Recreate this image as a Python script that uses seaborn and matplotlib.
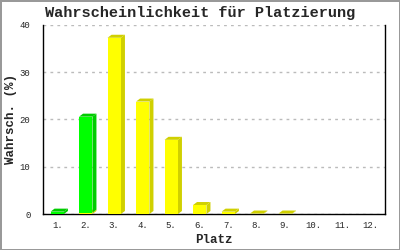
import matplotlib
matplotlib.use("Agg")
import matplotlib.pyplot as plt
import seaborn as sns
import pandas as pd
import numpy as np
from matplotlib.patches import Polygon
from matplotlib.transforms import IdentityTransform

# ---- data ----
places = ["1.", "2.", "3.", "4.", "5.", "6.", "7.", "8.", "9.", "10.", "11.", "12."]
yellow_vals = [0.0, 0.3, 37.3, 23.8, 15.7, 1.9, 0.5, 0.1, 0.1, 0.0, 0.0, 0.0]
green_vals = [0.5, 20.3, 0.0, 0.0, 0.0, 0.0, 0.0, 0.0, 0.0, 0.0, 0.0, 0.0]
yticks = [0, 10, 20, 30, 40]

title = "Wahrscheinlichkeit für Platzierung"
xlabel = "Platz"
ylabel = "Wahrsch. (%)"

YELLOW, YELLOW_SIDE = "#ffff00", "#d0d000"
GREEN, GREEN_SIDE = "#00ff00", "#00cc00"

sns.set_style("white")
plt.rcParams["font.family"] = ["Liberation Mono", "DejaVu Sans Mono"]

fig = plt.figure(figsize=(4, 2.5), dpi=100)
fig.patch.set_facecolor("white")
fig.patch.set_edgecolor("#999999")
fig.patch.set_linewidth(2)
ax = fig.add_axes([0.1075, 0.144, 0.855, 0.756])

df = pd.DataFrame({"place": places, "yellow": yellow_vals, "green": green_vals})
bw = 0.47
sns.barplot(data=df, x="place", y="yellow", color=YELLOW, saturation=1, width=bw,
            ax=ax, linewidth=0, zorder=3)
n_y = len(ax.patches)
sns.barplot(data=df, x="place", y="green", color=GREEN, saturation=1, width=bw,
            ax=ax, linewidth=0, zorder=3, bottom=df["yellow"].values)

ax.set_xlim(-0.5, len(places) - 0.5)
ax.set_ylim(0, 40)
ax.set_yticks(yticks)
ax.set_yticklabels([str(t) for t in yticks], fontsize=6.5)
ax.tick_params(axis="y", length=5, width=1, color="black", direction="out", pad=4)
ax.tick_params(axis="x", length=0, pad=5, labelsize=6.5)

for s in ["left", "right", "bottom"]:
    ax.spines[s].set_visible(True)
    ax.spines[s].set_color("black")
    ax.spines[s].set_linewidth(1)
ax.spines["top"].set_visible(False)

ax.yaxis.grid(True, color="#bbbbbb", linestyle=(0, (2, 3)), linewidth=1, zorder=0)
ax.set_axisbelow(True)

ax.set_xlabel(xlabel, fontsize=9, fontweight="bold")
ax.xaxis.set_label_coords(0.5, -0.105)
ax.set_ylabel(ylabel, fontsize=9, fontweight="bold")
ax.yaxis.set_label_coords(-0.076, 0.5)
fig.text(0.5, 0.947, title, ha="center", va="center", fontsize=11, fontweight="bold")

# 3D faces: side and top, offset in pixels
fig.canvas.draw()
dx, dy = 4, 3
for i, p in enumerate(ax.patches):
    h = p.get_height()
    if h <= 0:
        continue
    side = YELLOW_SIDE if i < n_y else GREEN_SIDE
    x0, y0 = p.get_x(), p.get_y()
    x1, y1 = x0 + p.get_width(), y0 + h
    (X0, Y0), (X1, Y1) = ax.transData.transform([(x0, y0), (x1, y1)])
    side_poly = [(X1, Y0), (X1 + dx, Y0 + dy), (X1 + dx, Y1 + dy), (X1, Y1)]
    top_poly = [(X0, Y1), (X0 + dx, Y1 + dy), (X1 + dx, Y1 + dy), (X1, Y1)]
    for poly in (side_poly, top_poly):
        ax.add_patch(Polygon(poly, closed=True, facecolor=side, edgecolor="none",
                             transform=IdentityTransform(), zorder=2.9,
                             clip_on=False))

fig.savefig("out.png", dpi=100)
